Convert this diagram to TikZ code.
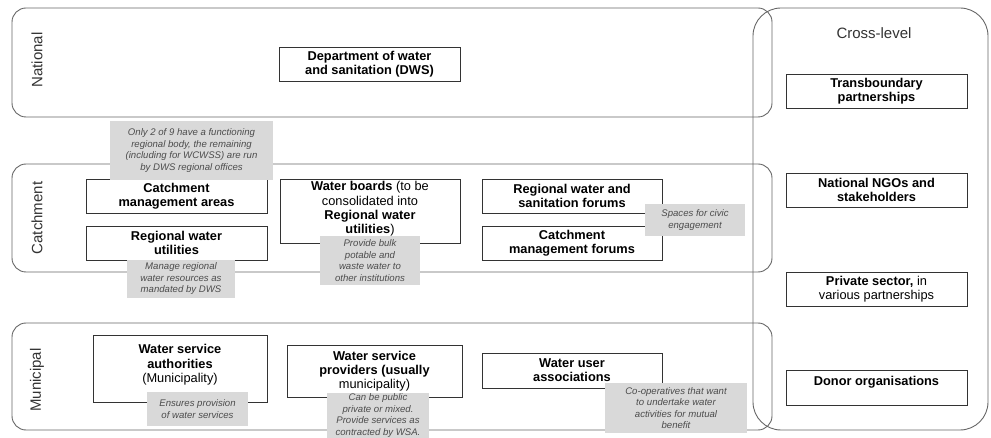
\documentclass[tikz,border=0pt]{standalone}
\usepackage{fontspec}
\setmainfont{Liberation Sans}
\begin{document}
\begin{tikzpicture}[x=1pt, y=-1pt,
    level/.style = {draw=black!60, line width=0.9pt, rounded corners=14pt},
    lvltext/.style = {text=black!80, font=\fontsize{15}{18}\selectfont},
    box/.style = {draw=black!80, line width=0.8pt, fill=white, align=center, inner sep=2pt,
      minimum width=181pt, minimum height=34pt, font=\fontsize{12.8}{14.2}\selectfont},
    note/.style = {fill=black!15, text=black!70, align=center, inner sep=1pt,
      font=\fontsize{9.6}{11.5}\selectfont\itshape}]
  \useasboundingbox (0,0) rectangle (991,438);

  \draw[level] (12,8) rectangle (772,117);
  \draw[level] (12,164) rectangle (772,272);
  \draw[level] (12,323) rectangle (772,430);
  \draw[level, rounded corners=28pt] (753,8) rectangle (988,430);

  \node[lvltext, rotate=90] (national) at (37,60) {National};
  \node[lvltext, rotate=90] (catchment) at (37,218) {Catchment};
  \node[lvltext, rotate=90] (municipal) at (37,380) {Municipal};
  \node[lvltext] (crosslevel) at (874,33) {Cross-level};

  \node[box] (dws) at (369.5,64) {\textbf{Department of water}\\\textbf{and sanitation (DWS)}};

  \node[box] (cma) at (176.5,196) {\textbf{Catchment}\\\textbf{management areas}};
  \node[box] (rwu) at (176.5,243) {\textbf{Regional water}\\\textbf{utilities}};
  \node[box, minimum width=180pt, minimum height=64pt, text depth=7pt] (wboards) at (370,211)
    {\textbf{Water boards} (to be\\consolidated into\\\textbf{Regional water}\\\textbf{utilities})};
  \node[box, minimum width=180pt] (rwsf) at (572,196) {\textbf{Regional water and}\\\textbf{sanitation forums}};
  \node[box, minimum width=180pt] (cmf) at (572,243) {\textbf{Catchment}\\\textbf{management forums}};

  \node[box, minimum width=174pt, minimum height=67pt, text depth=10pt] (wsa) at (180,368.5)
    {\textbf{Water service}\\\textbf{authorities}\\(Municipality)};
  \node[box, minimum width=175pt, minimum height=52pt] (wsp) at (374.5,371)
    {\textbf{Water service}\\\textbf{providers (usually}\\municipality)};
  \node[box, minimum width=180pt, minimum height=35pt] (wua) at (572,370.5) {\textbf{Water user}\\\textbf{associations}};

  \node[box] (tbp) at (876.5,91) {\textbf{Transboundary}\\\textbf{partnerships}};
  \node[box] (ngos) at (876.5,190) {\textbf{National NGOs and}\\\textbf{stakeholders}};
  \node[box] (privsec) at (876.5,289) {\textbf{Private sector,} in\\various partnerships};
  \node[box, minimum height=35pt, text depth=14pt] (donors) at (876.5,387.5) {\textbf{Donor organisations}};

  \node[note, minimum width=163pt, minimum height=59pt] (cmanote) at (191.5,150.5)
    {Only 2 of 9 have a functioning\\regional body, the remaining\\(including for WCWSS) are run\\by DWS regional offices};
  \node[note, minimum width=108pt, minimum height=38pt] (rwunote) at (181,279)
    {Manage regional\\water resources as\\mandated by DWS};
  \node[note, minimum width=100pt, minimum height=49pt] (wbnote) at (370,260.5)
    {Provide bulk\\potable and\\waste water to\\other institutions};
  \node[note, minimum width=100pt, minimum height=32pt] (forumnote) at (695,220)
    {Spaces for civic\\engagement};
  \node[note, minimum width=101pt, minimum height=34pt] (wsanote) at (197.5,409)
    {Ensures provision\\of water services};
  \node[note, minimum width=102pt, minimum height=45pt] (wspnote) at (378,415.5)
    {Can be public\\private or mixed.\\Provide services as\\contracted by WSA.};
  \node[note, minimum width=142pt, minimum height=50pt] (wuanote) at (676,408)
    {Co-operatives that want\\to undertake water\\activities for mutual\\benefit};
\end{tikzpicture}
\end{document}
